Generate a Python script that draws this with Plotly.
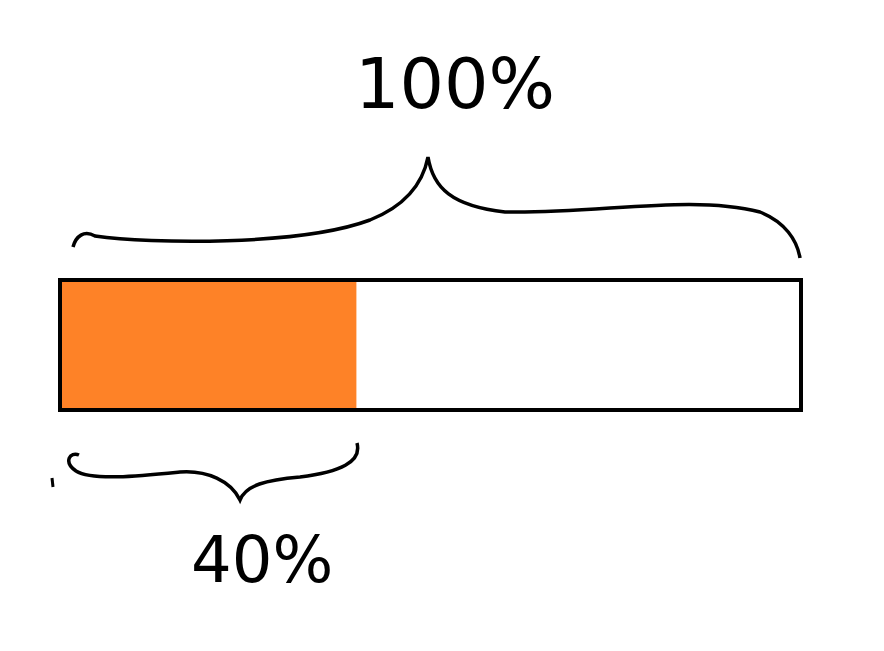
import plotly.graph_objects as go

# ---- data ----
categories = ["part", "total"]
values = [40, 100]
labels = ["40%", "100%"]

# ---- layout constants (page pixel geometry) ----
W, H = 884, 651
OFF = 8                               # browser default body margin
PX_LEFT, PX_RIGHT = 60, 801          # where 0 and total land
K = (PX_RIGHT - PX_LEFT) / values[1]  # px per unit
BAR_TOP, BAR_BOT = 280, 410
ORANGE = "#FE8227"


def X(px):
    """page pixel x -> data x"""
    return (px - PX_LEFT) / K


def path(cmds):
    out = []
    for c in cmds:
        if isinstance(c, str):
            out.append(c)
        else:
            out.append(f"{X(c[0]):.3f},{c[1]:.1f}")
    return " ".join(out)


top_brace = path([
    "M", (73, 247),
    "C", (76, 236), (84, 230), (95, 236),
    "C", (150, 244), (300, 246), (370, 220),
    "C", (400, 208), (422, 188), (428, 157),
    "C", (433, 188), (452, 206), (505, 212),
    "C", (600, 214), (690, 194), (760, 212),
    "C", (785, 222), (797, 240), (800, 258),
])

bottom_brace = path([
    "M", (79, 455),
    "C", (70, 451), (63, 462), (76, 471),
    "C", (92, 481), (140, 476), (180, 472),
    "C", (207, 470), (231, 481), (240, 500),
    "C", (246, 485), (266, 480), (300, 477),
    "C", (340, 472), (362, 462), (357, 443),
])

dot = path(["M", (52, 478), "L", (53, 487)])

fig = go.Figure()
fig.add_trace(go.Bar(
    x=[values[0]], y=[(BAR_TOP + BAR_BOT) / 2], base=0,
    orientation="h", width=BAR_BOT - BAR_TOP - 4,
    marker=dict(color=ORANGE, line=dict(width=0)),
    hoverinfo="skip", showlegend=False,
))

shapes = [
    dict(type="rect", xref="x", yref="y", x0=0, x1=values[1],
         y0=BAR_TOP, y1=BAR_BOT, line=dict(color="black", width=4)),
    dict(type="path", xref="x", yref="y", path=top_brace,
         line=dict(color="black", width=3.5)),
    dict(type="path", xref="x", yref="y", path=bottom_brace,
         line=dict(color="black", width=3.5)),
    dict(type="path", xref="x", yref="y", path=dot,
         line=dict(color="black", width=3)),
]

annotations = [
    dict(x=X(455), y=84, xref="x", yref="y", text=labels[1], showarrow=False,
         font=dict(family="DejaVu Sans", size=70, color="black")),
    dict(x=X(262), y=560, xref="x", yref="y", text=labels[0], showarrow=False,
         font=dict(family="DejaVu Sans", size=64, color="black")),
]

fig.update_layout(
    width=W, height=H, autosize=False,
    margin=dict(l=0, r=0, t=0, b=0),
    paper_bgcolor="white", plot_bgcolor="white",
    shapes=shapes, annotations=annotations,
    xaxis=dict(range=[X(OFF), X(OFF + W)], visible=False, fixedrange=True),
    yaxis=dict(range=[H + OFF, OFF], visible=False, fixedrange=True),
    showlegend=False,
)

fig.write_html("out.html", config={"displayModeBar": False})
